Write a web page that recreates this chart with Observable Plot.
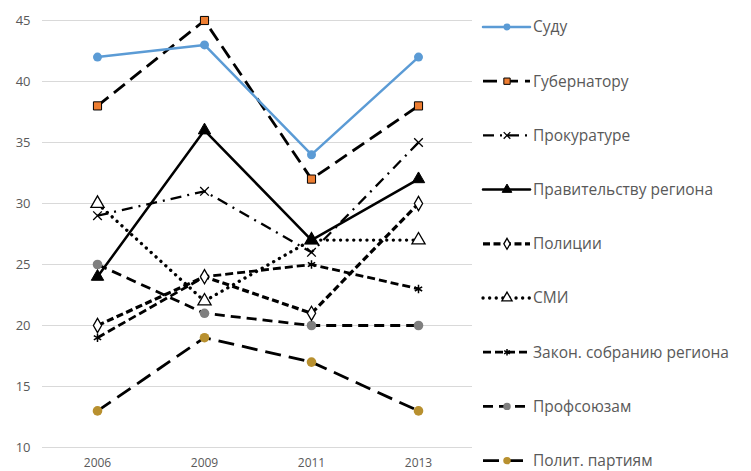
<!DOCTYPE html>
<html><head><meta charset="utf-8">
<script src="https://cdn.jsdelivr.net/npm/d3@7"></script>
<script src="https://cdn.jsdelivr.net/npm/@observablehq/plot@0.6"></script>
<style>
body{margin:0;background:#fff;font-family:"Open Sans",sans-serif;}
#wrap{position:relative;width:751px;height:471px;}
#chart{position:absolute;left:0;top:0;}
#legend{position:absolute;left:475px;top:0;}
</style></head><body>
<div id="wrap"><div id="chart"></div><svg id="legend" width="276" height="471"></svg></div>
<script>
const years = ["2006", "2009", "2011", "2013"];
const seriesNames = ["Суду","Губернатору","Прокуратуре","Правительству региона","Полиции","СМИ","Закон. собранию региона","Профсоюзам","Полит. партиям"];
const sudu = [42, 43, 34, 42];
const gubernatoru = [38, 45, 32, 38];
const prokurature = [29, 31, 26, 35];
const pravitelstvu = [24, 36, 27, 32];
const policii = [20, 24, 21, 30];
const smi = [30, 22, 27, 27];
const zakon = [19, 24, 25, 23];
const profsoyuzam = [25, 21, 20, 20];
const partiyam = [13, 19, 17, 13];
const yTicks = [10, 15, 20, 25, 30, 35, 40, 45];

const values = [sudu, gubernatoru, prokurature, pravitelstvu, policii, smi, zakon, profsoyuzam, partiyam];

const styles = [
  {stroke:"#5b9bd5", sw:2.5, dash:null, cap:"round", sym:"circle", r:4.5, fill:"#5b9bd5", ms:"none", msw:0},
  {stroke:"#000", sw:2.8, dash:"14,7", cap:"butt", sym:"square", r:4.6, fill:"#ed7d31", ms:"#000", msw:1},
  {stroke:"#000", sw:2.3, dash:"11,6,2,6", cap:"butt", sym:"times", r:4, fill:"none", ms:"#000", msw:1.3},
  {stroke:"#000", sw:2.5, dash:null, cap:"round", sym:"triangle", r:4.6, fill:"#000", ms:"#000", msw:1},
  {stroke:"#000", sw:3.2, dash:"7,3.5", cap:"butt", sym:"diamond", r:4.3, fill:"#fff", ms:"#000", msw:1.3},
  {stroke:"#000", sw:3.3, dash:"0.1,6.5", cap:"round", sym:"triangle", r:4.9, fill:"#fff", ms:"#000", msw:1.3},
  {stroke:"#000", sw:2.8, dash:"8,4", cap:"butt", sym:"asterisk", r:4, fill:"none", ms:"#000", msw:1.5},
  {stroke:"#000", sw:2.8, dash:"10,6", cap:"butt", sym:"circle", r:4.8, fill:"#7f7f7f", ms:"none", msw:0},
  {stroke:"#000", sw:2.8, dash:"16,8", cap:"butt", sym:"circle", r:4.8, fill:"#b8902f", ms:"none", msw:0}
];

const marks = [];
for (let i = seriesNames.length - 1; i >= 0; i--) {
  const data = years.map((y, j) => ({year: y, value: values[i][j], name: seriesNames[i]}));
  const s = styles[i];
  marks.push(Plot.line(data, {x:"year", y:"value", stroke:s.stroke, strokeWidth:s.sw, strokeDasharray:s.dash, strokeLinecap:s.cap, strokeLinejoin:"round"}));
  marks.push(Plot.dot(data, {x:"year", y:"value", symbol:s.sym, r:s.r, fill:s.fill, stroke:s.ms, strokeWidth:s.msw}));
}

const chart = Plot.plot({
  width: 475, height: 471,
  marginLeft: 42, marginRight: 3, marginTop: 20, marginBottom: 24,
  style: {fontFamily: "Open Sans, sans-serif", color: "#595959", background:"#fff"},
  x: {type:"point", domain: years, padding: 0.5, label: null, tickSize: 0, tickPadding: 11},
  y: {domain: [10, 45], ticks: yTicks, label: null, tickSize: 0, tickPadding: 12},
  marks: [
    Plot.gridY(yTicks, {stroke:"#d9d9d9", strokeOpacity:1, strokeWidth:1.2}),
    Plot.axisY(yTicks, {tickSize:0, tickPadding:12, fontSize:13, fill:"#595959", label:null}),
    Plot.axisX({tickSize:0, tickPadding:11, fontSize:12, fill:"#595959", label:null}),
    ...marks
  ]
});
document.getElementById("chart").appendChild(chart);

// Legend
const lg = d3.select("#legend");
const symMap = {circle:d3.symbolCircle, square:d3.symbolSquare, times:d3.symbolTimes, triangle:d3.symbolTriangle, diamond:d3.symbolDiamond, asterisk:d3.symbolAsterisk};
seriesNames.forEach((name, i) => {
  const s = styles[i];
  const y = 27 + i * 54.2;
  const g = lg.append("g").attr("transform", `translate(0,${y})`);
  g.append("line").attr("x1", 8).attr("x2", 55).attr("y1", 0).attr("y2", 0)
    .attr("stroke", s.stroke).attr("stroke-width", s.sw)
    .attr("stroke-dasharray", s.dash).attr("stroke-linecap", s.cap);
  g.append("path").attr("transform", "translate(32,0)")
    .attr("d", d3.symbol(symMap[s.sym], Math.PI * s.r * s.r * 0.6)())
    .attr("fill", s.fill).attr("stroke", s.ms).attr("stroke-width", s.msw);
  g.append("text").attr("x", 58).attr("y", 0).attr("dy", "0.35em")
    .attr("font-size", 15.5).attr("fill", "#595959")
    .attr("font-family", "Open Sans, sans-serif").text(name);
});
</script>
</body></html>
